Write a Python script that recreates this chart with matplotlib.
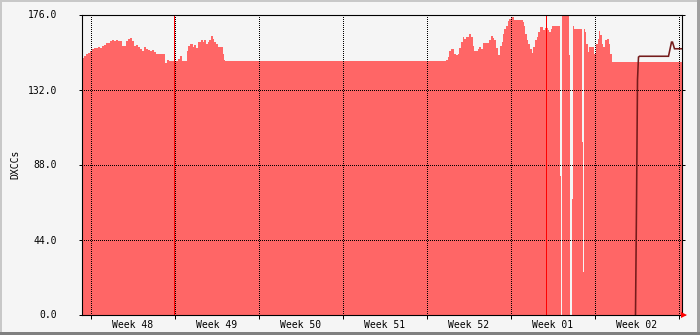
import matplotlib
matplotlib.use('Agg')
import matplotlib.pyplot as plt
from matplotlib.patches import Rectangle
from matplotlib.ticker import FixedLocator, NullFormatter, FixedFormatter

# ---- data (time in hours since the left edge of the graph, 50 days shown) ----
area_hours = [0, 4, 8, 12, 16, 20, 24, 32, 36, 40, 44, 48, 52, 56, 60, 64, 68, 72,
              80, 88, 92, 96, 100, 104, 108, 112, 116, 120, 124, 128, 132, 136, 140,
              144, 148, 166, 170, 174, 192, 196, 200, 210, 212, 216, 222, 224, 228,
              232, 238, 242, 244, 248, 252, 254, 258, 262, 264, 268, 272, 282, 284,
              286,
              728, 732, 734, 738, 742, 744, 748, 752, 754, 758, 762, 764, 768, 774,
              778, 782, 784, 792, 794, 798, 802, 814, 818, 822, 824, 828, 832, 836,
              840, 842, 844, 848, 852, 854, 858, 864, 868, 872, 882, 884, 886, 890,
              892, 896, 900, 902, 906, 910, 912, 916, 922, 926, 932, 934, 938, 940,
              956, 958, 960, 974, 976, 980, 982, 984, 1000, 1002, 1004, 1006, 1008,
              1012, 1014, 1018, 1024, 1028, 1032, 1034, 1036, 1040, 1042, 1046, 1050,
              1054, 1056, 1060, 1200]
area_values = [150.2, 151.8, 153.0, 153.5, 154.5, 155.7, 156.3, 157.0, 156.3, 157.4,
               158.2, 159.0, 159.4, 160.5, 161.3, 160.5, 161.3, 160.5,
               157.4, 160.5, 161.7, 162.5, 160.2, 157.4, 158.2, 157.0, 155.9, 154.5,
               157.0, 155.9, 155.0, 154.5, 155.0,
               153.9, 153.0, 147.7, 149.3, 149.0, 150.0, 151.6, 149.0, 154.5, 157.8,
               158.8, 156.8, 158.4, 156.3,
               159.8, 161.3, 159.8, 161.3, 158.8, 159.8, 161.3, 163.1, 161.7, 159.8,
               158.8, 157.2, 153.0, 149.4,
               149.0,
               149.6, 151.0, 154.3, 155.9, 155.5, 153.0, 152.0, 153.0, 156.3, 159.8,
               162.7, 161.5, 162.7, 164.3,
               162.7, 157.8, 154.3, 155.5, 157.2, 155.9, 159.4, 161.2, 163.1, 162.5,
               160.8, 156.3, 152.5, 157.8,
               160.0, 164.7, 167.6, 169.5, 171.9, 173.5, 174.4, 173.0, 172.5, 173.0,
               171.5, 169.0, 164.7, 161.2,
               158.8, 155.9, 153.3, 156.8, 160.8, 162.7, 165.6, 168.6, 167.0, 168.0,
               167.0, 165.6, 167.6, 169.5,
               81.0, 0.0, 180.0, 152.0, 0.0, 68.0, 169.5, 167.6, 101.0, 25.0, 167.6,
               165.6, 158.8,
               153.9, 157.2, 156.8, 153.0, 158.8, 161.7, 166.2, 163.7, 158.8, 157.0,
               160.8, 161.7,
               158.8, 153.0, 148.4, 148.4]

line_hours = [1108, 1110, 1112, 1114, 1116, 1174, 1180, 1182, 1186, 1200]
line_values = [0.0, 63.4, 137.7, 151.0, 151.5, 151.5, 159.8, 159.8, 155.9, 155.9]

vrule_hours = [186, 930]
week_bounds = [18, 186, 354, 522, 690, 858, 1026, 1194]
week_labels = ['Week 48', 'Week 49', 'Week 50', 'Week 51', 'Week 52', 'Week 01', 'Week 02']
y_ticks = [0.0, 44.0, 88.0, 132.0, 176.0]
y_title = 'DXCCs'

# ---- style ----
W, H = 700, 335
BG = '#F5F5F5'
FILL = '#FF6666'
LINE = '#751C1C'
px = 72 / 100.0  # one pixel in points at dpi 100

plt.rcParams['font.family'] = ['DejaVu Sans Mono']
plt.rcParams['font.size'] = 7

fig = plt.figure(figsize=(W / 100, H / 100), dpi=100, facecolor=BG)

# 3D-like border of the canvas
fig.patches.append(Rectangle((0, 1 - 2 / H), 1, 2 / H, transform=fig.transFigure,
                             facecolor='#C8C8C8', edgecolor='none', zorder=0))
fig.patches.append(Rectangle((0, 0), 2 / W, 1, transform=fig.transFigure,
                             facecolor='#C8C8C8', edgecolor='none', zorder=0))
fig.patches.append(Rectangle((1 - 3 / W, 0), 3 / W, 1, transform=fig.transFigure,
                             facecolor='#A0A0A0', edgecolor='none', zorder=0))
fig.patches.append(Rectangle((0, 0), 1, 3 / H, transform=fig.transFigure,
                             facecolor='#808080', edgecolor='none', zorder=0))

ax = fig.add_axes([81.5 / W, 20.5 / H, 600 / W, 300 / H])
ax.set_facecolor(BG)
ax.set_xlim(0, 1200)
ax.set_ylim(0, 176)

ax.fill_between(area_hours, area_values, 0, step='post', color=FILL,
                linewidth=0, zorder=1)
# vertical rules, about 1.3 px wide (1 px = 2 hours)
for vh in vrule_hours:
    ax.axvspan(vh - 1.2, vh + 1.2, color='#FF0000', linewidth=0, zorder=3)
ax.plot(line_hours, line_values, color=LINE, linewidth=1.6 * px, zorder=4,
        solid_joinstyle='miter')

# ticks and grid
ax.set_axisbelow(False)
ax.yaxis.set_major_locator(FixedLocator(y_ticks))
ax.set_yticklabels(['%.1f' % v for v in y_ticks])
ax.xaxis.set_major_locator(FixedLocator(week_bounds))
ax.xaxis.set_major_formatter(NullFormatter())
mids = [(a + b) / 2 for a, b in zip(week_bounds[:-1], week_bounds[1:])]
ax.xaxis.set_minor_locator(FixedLocator(mids))
ax.xaxis.set_minor_formatter(FixedFormatter(week_labels))

ax.grid(True, which='major', color='black', linestyle=(0, (1, 2)),
        linewidth=px, zorder=2.5)
for gl in ax.xaxis.get_gridlines() + ax.yaxis.get_gridlines():
    gl.set_antialiased(False)
ax.tick_params(axis='y', which='major', direction='out', length=2.5, width=px,
               left=True, right=True, pad=21 * px, colors='black')
ax.tick_params(axis='x', which='major', direction='out', length=3, width=px,
               bottom=True, top=False)
ax.tick_params(axis='x', which='minor', length=0, pad=5 * px)

for s in ax.spines.values():
    s.set_color('black')
    s.set_linewidth(px * 1.1)
    s.set_zorder(5)

# red arrow at the end of the x axis
ax.plot([1.0 + 3 / 600], [0.0], marker='>', color='#FF0000', markersize=4.5,
        transform=ax.transAxes, clip_on=False, zorder=6, markeredgewidth=0)
ax.plot([1.0, 1.0 + 3 / 600], [0.0, 0.0], color='#FF0000', linewidth=2 * px,
        transform=ax.transAxes, clip_on=False, zorder=6)

fig.text(15 / W, (20.5 + 150) / H, y_title, rotation=90, ha='center', va='center')

fig.savefig('out.png', dpi=100, facecolor=BG)
